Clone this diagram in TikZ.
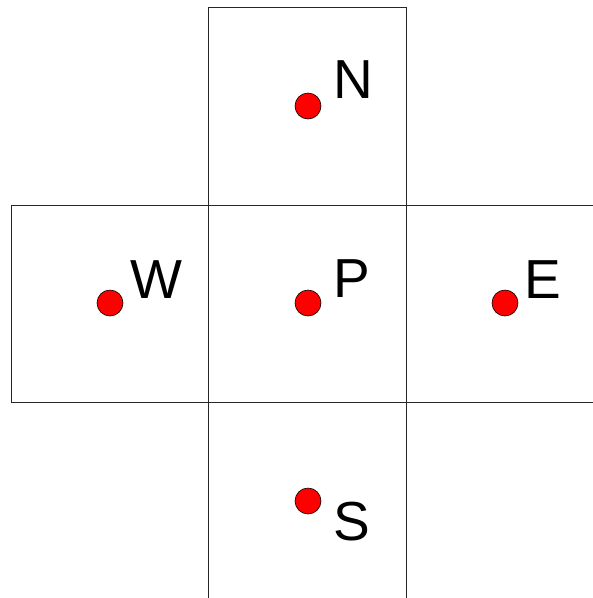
\documentclass[tikz,border=0pt]{standalone}
\usepackage{fontspec}
\setmainfont{Liberation Sans}
\begin{document}
\begin{tikzpicture}[x=1pt,y=-1pt,
  cell/.style={draw=black!85, line width=0.9pt},
  pt/.style={circle, fill=red, draw=black, line width=0.6pt, minimum size=26pt, inner sep=0pt},
  lbl/.style={anchor=base west, inner sep=0pt, font=\fontsize{55}{55}\selectfont}]
\useasboundingbox (0,0) rectangle (593,598);
% cells
\draw[cell] (208,598) -- (208,7) -- (406,7) -- (406,598);
\draw[cell] (593,205) -- (11,205) -- (11,402) -- (593,402);
% points
\node[pt] (N) at (308,106) {};
\node[pt] (W) at (110,303) {};
\node[pt] (P) at (308,303) {};
\node[pt] (E) at (505,303) {};
\node[pt] (S) at (308,501) {};
% labels
\node[lbl] (lN) at (333,98) {N};
\node[lbl] (lW) at (130,298) {W};
\node[lbl] (lP) at (333,297) {P};
\node[lbl] (lE) at (524,298) {E};
\node[lbl] (lS) at (333,540) {S};
\end{tikzpicture}
\end{document}
